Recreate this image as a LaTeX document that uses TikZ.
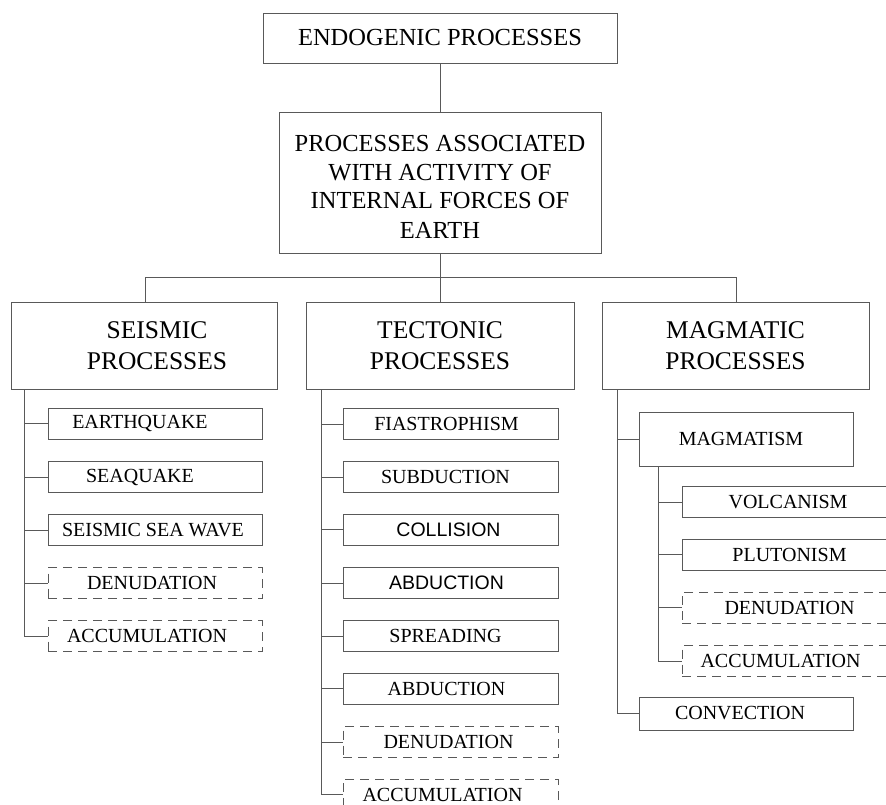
\documentclass[tikz,border=0pt]{standalone}
\usepackage{fontspec}
\setmainfont{Liberation Serif}
\newfontfamily\arialf{Liberation Sans}
\begin{document}
\begin{tikzpicture}[x=1pt,y=-1pt,
  ln/.style={draw=black!65,line width=0.8pt},
  bx/.style={ln,rectangle,inner sep=0pt,align=center,font=\fontsize{20}{24}\selectfont},
  dbx/.style={dash pattern=on 9pt off 6pt},
  cat/.style={bx,minimum height=87pt,font=\fontsize{25.5}{31}\selectfont},
  kidA/.style={bx,minimum width=214pt,minimum height=31pt},
  kidB/.style={bx,minimum width=215pt,minimum height=31pt},
  sansk/.style={font=\arialf\fontsize{19.5}{24}\selectfont}]
\useasboundingbox (0,0) rectangle (886,805);

% top levels
\node[bx,minimum width=354pt,minimum height=50pt,font=\fontsize{24.5}{29}\selectfont] (endo) at (440,38) {ENDOGENIC PROCESSES};
\node[bx,minimum width=322pt,minimum height=141pt,font=\fontsize{24.5}{29}\selectfont] (assoc) at (440,182.5) {\rule{0pt}{24pt}PROCESSES ASSOCIATED\\WITH ACTIVITY OF\\INTERNAL FORCES OF\\EARTH};

% categories
\node[cat,minimum width=266pt] (seis) at (144,345.5) {\hspace*{26pt}SEISMIC\\\hspace*{26pt}PROCESSES};
\node[cat,minimum width=268pt] (tect) at (440,345.5) {TECTONIC\\PROCESSES};
\node[cat,minimum width=267pt] (magm) at (735.5,345.5) {MAGMATIC\\PROCESSES};

% seismic children
\node[kidA] (eq)   at (155,423.5) {EARTHQUAKE\hspace*{30pt}};
\node[kidA] (sq)   at (155,477)   {SEAQUAKE\hspace*{30pt}};
\node[kidA] (ssw)  at (155,530)   {SEISMIC SEA WAVE\hspace*{4pt}};
\node[kidA,dbx] (den1) at (155,583) {DENUDATION\hspace*{6pt}};
\node[kidA,dbx] (acc1) at (155,636) {ACCUMULATION\hspace*{16pt}};

% tectonic children
\node[kidB] (fia)  at (450.5,424)   {FIASTROPHISM\hspace*{8pt}};
\node[kidB] (sub)  at (450.5,477)   {SUBDUCTION\hspace*{10pt}};
\node[kidB,sansk] (col)  at (450.5,529.5) {COLLISION\hspace*{4pt}};
\node[kidB,sansk] (abd1) at (450.5,583)   {ABDUCTION\hspace*{8pt}};
\node[kidB] (spr)  at (450.5,636)   {SPREADING\hspace*{10pt}};
\node[kidB] (abd2) at (450.5,688.5) {ABDUCTION\hspace*{8pt}};
\node[kidB,dbx] (den2) at (450.5,742) {DENUDATION\hspace*{4pt}};
\node[kidB,dbx] (acc2) at (450.5,794.5) {ACCUMULATION\hspace*{16pt}};

% magmatic children
\node[kidA,minimum height=54pt] (mgm) at (746,439) {MAGMATISM\hspace*{10pt}};
\node[kidB] (vol)  at (789.5,502)   {VOLCANISM\hspace*{3pt}};
\node[kidB] (plu)  at (789.5,554.5) {PLUTONISM};
\node[kidB,dbx] (den3) at (789.5,607.5) {DENUDATION};
\node[kidB,dbx] (acc3) at (789.5,661)   {ACCUMULATION\hspace*{18pt}};
\node[kidA,minimum height=33pt] (conv) at (746,713.5) {CONVECTION\hspace*{12pt}};

% connectors, top
\draw[ln] (endo) -- (assoc);
\draw[ln] (assoc) -- (tect);
\coordinate (busL) at (145,277);
\coordinate (busR) at (736,277);
\draw[ln] (busL) -- (busR);
\draw[ln] (busL) -- (busL |- seis.north);
\draw[ln] (busR) -- (busR |- magm.north);

% seismic spine
\coordinate (sp1) at (24,389);
\draw[ln] (sp1) |- (acc1.west);
\foreach \n in {eq,sq,ssw,den1} \draw[ln] (sp1 |- \n.west) -- (\n.west);

% tectonic spine
\coordinate (sp2) at (321,389);
\draw[ln] (sp2) |- (acc2.west);
\foreach \n in {fia,sub,col,abd1,spr,abd2,den2} \draw[ln] (sp2 |- \n.west) -- (\n.west);

% magmatic spine
\coordinate (sp3) at (617,389);
\draw[ln] (sp3) |- (conv.west);
\draw[ln] (sp3 |- mgm.west) -- (mgm.west);

% magmatism sub-spine
\coordinate (sp4) at (658,466);
\draw[ln] (sp4) |- (acc3.west);
\foreach \n in {vol,plu,den3} \draw[ln] (sp4 |- \n.west) -- (\n.west);
\end{tikzpicture}
\end{document}
